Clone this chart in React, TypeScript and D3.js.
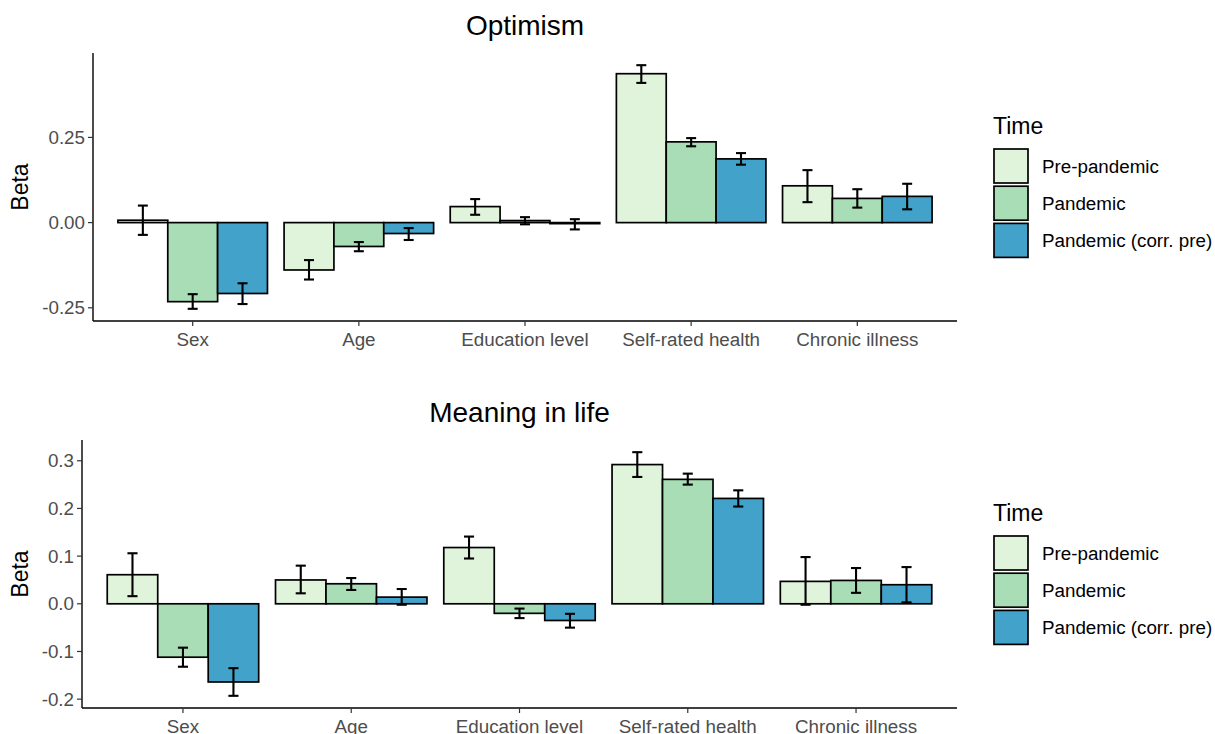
import React from "react";
import * as d3 from "d3";

const categories = ["Sex", "Age", "Education level", "Self-rated health", "Chronic illness"];
const series = ["Pre-pandemic", "Pandemic", "Pandemic (corr. pre)"];
const colors = ["#e0f3db", "#a8ddb5", "#43a2ca"];

// Optimism
const optBeta = [
  [0.007, -0.232, -0.208],
  [-0.139, -0.070, -0.032],
  [0.047, 0.006, -0.003],
  [0.437, 0.237, 0.187],
  [0.108, 0.071, 0.077],
];
const optLow = [
  [-0.036, -0.253, -0.239],
  [-0.167, -0.084, -0.051],
  [0.023, -0.005, -0.020],
  [0.410, 0.224, 0.170],
  [0.060, 0.044, 0.039],
];
const optHigh = [
  [0.050, -0.210, -0.178],
  [-0.110, -0.057, -0.016],
  [0.069, 0.016, 0.010],
  [0.462, 0.248, 0.204],
  [0.154, 0.098, 0.114],
];
const optTicks = [-0.25, 0, 0.25];

// Meaning in life
const milBeta = [
  [0.061, -0.112, -0.164],
  [0.050, 0.042, 0.014],
  [0.118, -0.020, -0.035],
  [0.292, 0.261, 0.221],
  [0.047, 0.049, 0.040],
];
const milLow = [
  [0.016, -0.132, -0.193],
  [0.022, 0.029, -0.002],
  [0.095, -0.030, -0.050],
  [0.266, 0.250, 0.204],
  [-0.002, 0.023, 0.003],
];
const milHigh = [
  [0.106, -0.092, -0.135],
  [0.080, 0.054, 0.031],
  [0.141, -0.010, -0.021],
  [0.318, 0.273, 0.238],
  [0.098, 0.075, 0.077],
];
const milTicks = [-0.2, -0.1, 0, 0.1, 0.2, 0.3];

const FONT = "'Liberation Sans', Arial, Helvetica, sans-serif";

type PanelProps = {
  title: string;
  beta: number[][];
  low: number[][];
  high: number[][];
  ticks: number[];
  fmt: string;
  left: number;
  right: number;
  top: number;
  bottom: number;
  legendTop: number;
};

function Panel({ title, beta, low, high, ticks, fmt, left, right, top, bottom, legendTop }: PanelProps) {
  const lo = d3.min(low.flat())!;
  const hi = d3.max(high.flat())!;
  const r = hi - lo;
  const y = d3.scaleLinear().domain([lo - 0.05 * r, hi + 0.05 * r]).range([bottom, top]);
  const x = d3.scaleBand<string>().domain(categories).range([left, right]).paddingInner(0.1).paddingOuter(0.15);
  const xs = d3.scaleBand<string>().domain(series).range([0, x.bandwidth()]).padding(0);
  const bw = xs.bandwidth();
  const capW = bw * 0.2;
  const f = d3.format(fmt);
  const y0 = y(0);
  const midY = (top + bottom) / 2;
  const midX = (left + right) / 2;

  return (
    <g>
      <text x={midX} y={top - 18} textAnchor="middle" fontSize={28} fill="#000" fontFamily={FONT}>
        {title}
      </text>
      {/* bars */}
      {categories.map((c, i) =>
        series.map((s, j) => {
          const v = beta[i][j];
          const bx = x(c)! + xs(s)!;
          return (
            <rect
              key={c + s}
              x={bx}
              y={Math.min(y(v), y0)}
              width={bw}
              height={Math.abs(y(v) - y0)}
              fill={colors[j]}
              stroke="#000"
              strokeWidth={1.7}
            />
          );
        })
      )}
      {/* error bars */}
      {categories.map((c, i) =>
        series.map((s, j) => {
          const cx = x(c)! + xs(s)! + bw / 2;
          const yl = y(low[i][j]);
          const yh = y(high[i][j]);
          return (
            <g key={"e" + c + s} stroke="#000" strokeWidth={2.1}>
              <line x1={cx} x2={cx} y1={yl} y2={yh} />
              <line x1={cx - capW / 2} x2={cx + capW / 2} y1={yl} y2={yl} />
              <line x1={cx - capW / 2} x2={cx + capW / 2} y1={yh} y2={yh} />
            </g>
          );
        })
      )}
      {/* axes */}
      <line x1={left} x2={left} y1={top} y2={bottom} stroke="#000" strokeWidth={1.4} />
      <line x1={left} x2={right} y1={bottom} y2={bottom} stroke="#000" strokeWidth={1.4} />
      {ticks.map((t) => (
        <g key={"yt" + t}>
          <line x1={left - 5} x2={left} y1={y(t)} y2={y(t)} stroke="#333" strokeWidth={1.2} />
          <text
            x={left - 8}
            y={y(t)}
            dy="0.35em"
            textAnchor="end"
            fontSize={18.8}
            fill="#4d4d4d"
            fontFamily={FONT}
          >
            {f(t).replace("−", "-")}
          </text>
        </g>
      ))}
      {categories.map((c) => {
        const cx = x(c)! + x.bandwidth() / 2;
        return (
          <g key={"xt" + c}>
            <line x1={cx} x2={cx} y1={bottom} y2={bottom + 5} stroke="#333" strokeWidth={1.2} />
            <text x={cx} y={bottom + 25} textAnchor="middle" fontSize={18.8} fill="#4d4d4d" fontFamily={FONT}>
              {c}
            </text>
          </g>
        );
      })}
      <text
        transform={`translate(${28},${midY}) rotate(-90)`}
        textAnchor="middle"
        fontSize={23}
        fill="#000"
        fontFamily={FONT}
      >
        Beta
      </text>
      {/* legend */}
      <text x={993} y={legendTop + 8} fontSize={23} fill="#000" fontFamily={FONT}>
        Time
      </text>
      {series.map((s, j) => {
        const ky = legendTop + 23 + j * 37.2;
        return (
          <g key={"lg" + s}>
            <rect x={994} y={ky} width={34} height={34} fill={colors[j]} stroke="#000" strokeWidth={1.7} />
            <text x={1042} y={ky + 17} dy="0.35em" fontSize={18.8} fill="#000" fontFamily={FONT}>
              {s}
            </text>
          </g>
        );
      })}
    </g>
  );
}

export default function App() {
  return (
    <div style={{ position: "absolute", left: 0, top: 0 }}>
      <svg width={1215} height={734} style={{ display: "block", background: "#fff" }}>
        <rect width={1215} height={734} fill="#fff" />
        <Panel
          title="Optimism"
          beta={optBeta}
          low={optLow}
          high={optHigh}
          ticks={optTicks}
          fmt=".2f"
          left={93}
          right={957}
          top={53}
          bottom={321}
          legendTop={126}
        />
        <Panel
          title="Meaning in life"
          beta={milBeta}
          low={milLow}
          high={milHigh}
          ticks={milTicks}
          fmt=".1f"
          left={82}
          right={957}
          top={440}
          bottom={708}
          legendTop={513}
        />
      </svg>
    </div>
  );
}
